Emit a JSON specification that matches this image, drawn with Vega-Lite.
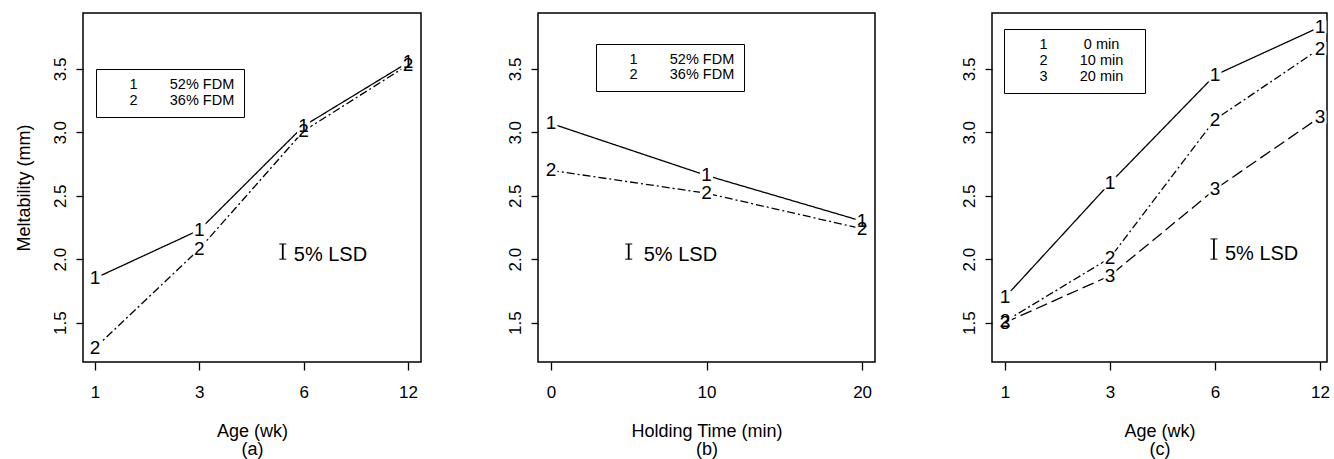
{
  "$schema": "https://vega.github.io/schema/vega-lite/v6.json",
  "padding": {"left": 14, "top": 12, "right": 0, "bottom": 0},
  "bounds": "flush",
  "spacing": 117,
  "config": {
    "font": "Liberation Sans",
    "view": {"stroke": "black", "strokeWidth": 1.5},
    "axis": {
      "domain": false, "grid": false,
      "tickColor": "black", "tickWidth": 1.3, "tickSize": 8,
      "labelColor": "black", "labelFontSize": 17, "labelFont": "Liberation Sans",
      "titleFont": "Liberation Sans", "titleFontSize": 18, "titleFontWeight": "normal", "titleColor": "black"
    },
    "axisX": {"labelPadding": 14, "titlePadding": 22, "titleLineHeight": 18},
    "axisY": {"tickSize": 7, "labelAngle": -90, "labelAlign": "center", "labelBaseline": "alphabetic", "labelPadding": 11, "titlePadding": 18},
    "legend": {
      "orient": "none", "title": null, "strokeColor": "black",
      "symbolType": "circle", "symbolSize": 1, "symbolOpacity": 0, "symbolStrokeWidth": 0,
      "labelFont": "Liberation Sans", "labelFontSize": 14.5, "labelColor": "black", "labelLimit": 400
    }
  },
  "datasets": {
    "a": [
      {"age": 1, "ageRank": 0, "fat": "52% FDM", "pch": "1", "meltability": 1.85},
      {"age": 3, "ageRank": 1, "fat": "52% FDM", "pch": "1", "meltability": 2.23},
      {"age": 6, "ageRank": 2, "fat": "52% FDM", "pch": "1", "meltability": 3.05},
      {"age": 12, "ageRank": 3, "fat": "52% FDM", "pch": "1", "meltability": 3.55},
      {"age": 1, "ageRank": 0, "fat": "36% FDM", "pch": "2", "meltability": 1.3},
      {"age": 3, "ageRank": 1, "fat": "36% FDM", "pch": "2", "meltability": 2.08},
      {"age": 6, "ageRank": 2, "fat": "36% FDM", "pch": "2", "meltability": 3.01},
      {"age": 12, "ageRank": 3, "fat": "36% FDM", "pch": "2", "meltability": 3.53}
    ],
    "b": [
      {"holding": 0, "fat": "52% FDM", "pch": "1", "meltability": 3.07},
      {"holding": 10, "fat": "52% FDM", "pch": "1", "meltability": 2.66},
      {"holding": 20, "fat": "52% FDM", "pch": "1", "meltability": 2.3},
      {"holding": 0, "fat": "36% FDM", "pch": "2", "meltability": 2.7},
      {"holding": 10, "fat": "36% FDM", "pch": "2", "meltability": 2.52},
      {"holding": 20, "fat": "36% FDM", "pch": "2", "meltability": 2.24}
    ],
    "c": [
      {"age": 1, "ageRank": 0, "holding": "0 min", "pch": "1", "meltability": 1.7},
      {"age": 3, "ageRank": 1, "holding": "0 min", "pch": "1", "meltability": 2.6},
      {"age": 6, "ageRank": 2, "holding": "0 min", "pch": "1", "meltability": 3.45},
      {"age": 12, "ageRank": 3, "holding": "0 min", "pch": "1", "meltability": 3.83},
      {"age": 1, "ageRank": 0, "holding": "10 min", "pch": "2", "meltability": 1.51},
      {"age": 3, "ageRank": 1, "holding": "10 min", "pch": "2", "meltability": 2.01},
      {"age": 6, "ageRank": 2, "holding": "10 min", "pch": "2", "meltability": 3.1},
      {"age": 12, "ageRank": 3, "holding": "10 min", "pch": "2", "meltability": 3.66},
      {"age": 1, "ageRank": 0, "holding": "20 min", "pch": "3", "meltability": 1.5},
      {"age": 3, "ageRank": 1, "holding": "20 min", "pch": "3", "meltability": 1.87},
      {"age": 6, "ageRank": 2, "holding": "20 min", "pch": "3", "meltability": 2.55},
      {"age": 12, "ageRank": 3, "holding": "20 min", "pch": "3", "meltability": 3.12}
    ]
  },
  "hconcat": [
    {
      "width": 338, "height": 349,
      "data": {"name": "a"},
      "encoding": {
        "x": {"field": "ageRank", "type": "quantitative", "title": ["Age (wk)", "(a)"],
              "scale": {"domain": [-0.115, 3.125], "nice": false, "zero": false},
              "axis": {"values": [0, 1, 2, 3], "labelExpr": "['1','3','6','12'][datum.value]"}},
        "y": {"field": "meltability", "type": "quantitative", "title": "Meltability (mm)",
              "scale": {"domain": [1.19, 3.94], "nice": false, "zero": false},
              "axis": {"values": [1.5, 2, 2.5, 3, 3.5], "format": ".1f"}}
      },
      "layer": [
        {"mark": {"type": "line", "color": "black", "strokeWidth": 1.3},
         "encoding": {"strokeDash": {"field": "fat", "type": "nominal",
           "scale": {"domain": ["52% FDM", "36% FDM"], "range": [[1, 0], [8, 3, 2, 3]]},
           "legend": {"legendX": 13, "legendY": 56, "padding": 9, "rowPadding": 1, "labelOffset": 10,
             "labelExpr": "(datum.label == '52% FDM' ? '1' : '2') + '\u00a0\u00a0\u00a0\u00a0\u00a0\u00a0\u00a0\u00a0' + datum.label",
             "encode": {"legend": {"update": {"strokeWidth": {"value": 1.5}}}}}}}},
        {"mark": {"type": "point", "shape": "square", "filled": true, "color": "white", "opacity": 1, "size": 170, "strokeWidth": 0}},
        {"mark": {"type": "text", "fontSize": 19, "color": "black", "baseline": "middle"},
         "encoding": {"text": {"field": "pch"}}},
        {"data": {"values": [{"ageRank": 1.8, "lsdLow": 2.0, "lsdHigh": 2.12, "label": "5% LSD"}]},
         "layer": [
           {"mark": {"type": "rule", "color": "black", "strokeWidth": 1.8},
            "encoding": {"y": {"field": "lsdLow", "type": "quantitative"}, "y2": {"field": "lsdHigh"}}},
           {"mark": {"type": "tick", "orient": "horizontal", "size": 7, "thickness": 1.4, "color": "black"},
            "encoding": {"y": {"field": "lsdLow", "type": "quantitative"}}},
           {"mark": {"type": "tick", "orient": "horizontal", "size": 7, "thickness": 1.4, "color": "black"},
            "encoding": {"y": {"field": "lsdHigh", "type": "quantitative"}}},
           {"mark": {"type": "text", "align": "left", "baseline": "alphabetic", "dx": 11, "dy": 2, "fontSize": 20, "color": "black"},
            "encoding": {"y": {"field": "lsdLow", "type": "quantitative"}, "text": {"field": "label"}}}
         ]}
      ]
    },
    {
      "width": 337, "height": 349,
      "data": {"name": "b"},
      "encoding": {
        "x": {"field": "holding", "type": "quantitative", "title": ["Holding Time (min)", "(b)"],
              "scale": {"domain": [-0.83, 20.83], "nice": false, "zero": false},
              "axis": {"values": [0, 10, 20]}},
        "y": {"field": "meltability", "type": "quantitative", "title": null,
              "scale": {"domain": [1.19, 3.94], "nice": false, "zero": false},
              "axis": {"values": [1.5, 2, 2.5, 3, 3.5], "format": ".1f"}}
      },
      "layer": [
        {"mark": {"type": "line", "color": "black", "strokeWidth": 1.3},
         "encoding": {"strokeDash": {"field": "fat", "type": "nominal",
           "scale": {"domain": ["52% FDM", "36% FDM"], "range": [[1, 0], [8, 3, 2, 3]]},
           "legend": {"legendX": 58, "legendY": 31, "padding": 9, "rowPadding": 0, "labelOffset": 10,
             "labelExpr": "(datum.label == '52% FDM' ? '1' : '2') + '\u00a0\u00a0\u00a0\u00a0\u00a0\u00a0\u00a0\u00a0' + datum.label",
             "encode": {"legend": {"update": {"strokeWidth": {"value": 1.5}}}}}}}},
        {"mark": {"type": "point", "shape": "square", "filled": true, "color": "white", "opacity": 1, "size": 170, "strokeWidth": 0}},
        {"mark": {"type": "text", "fontSize": 19, "color": "black", "baseline": "middle"},
         "encoding": {"text": {"field": "pch"}}},
        {"data": {"values": [{"holding": 5, "lsdLow": 2.0, "lsdHigh": 2.12, "label": "5% LSD"}]},
         "layer": [
           {"mark": {"type": "rule", "color": "black", "strokeWidth": 1.8},
            "encoding": {"y": {"field": "lsdLow", "type": "quantitative"}, "y2": {"field": "lsdHigh"}}},
           {"mark": {"type": "tick", "orient": "horizontal", "size": 7, "thickness": 1.4, "color": "black"},
            "encoding": {"y": {"field": "lsdLow", "type": "quantitative"}}},
           {"mark": {"type": "tick", "orient": "horizontal", "size": 7, "thickness": 1.4, "color": "black"},
            "encoding": {"y": {"field": "lsdHigh", "type": "quantitative"}}},
           {"mark": {"type": "text", "align": "left", "baseline": "alphabetic", "dx": 15, "dy": 2, "fontSize": 20, "color": "black"},
            "encoding": {"y": {"field": "lsdLow", "type": "quantitative"}, "text": {"field": "label"}}}
         ]}
      ]
    },
    {
      "width": 335, "height": 349,
      "data": {"name": "c"},
      "encoding": {
        "x": {"field": "ageRank", "type": "quantitative", "title": ["Age (wk)", "(c)"],
              "scale": {"domain": [-0.124, 3.067], "nice": false, "zero": false},
              "axis": {"values": [0, 1, 2, 3], "labelExpr": "['1','3','6','12'][datum.value]"}},
        "y": {"field": "meltability", "type": "quantitative", "title": null,
              "scale": {"domain": [1.19, 3.94], "nice": false, "zero": false},
              "axis": {"values": [1.5, 2, 2.5, 3, 3.5], "format": ".1f"}}
      },
      "layer": [
        {"mark": {"type": "line", "color": "black", "strokeWidth": 1.3},
         "encoding": {"strokeDash": {"field": "holding", "type": "nominal",
           "scale": {"domain": ["0 min", "10 min", "20 min"], "range": [[1, 0], [8, 3, 2, 3], [12, 5]]},
           "legend": {"legendX": 12, "legendY": 16, "padding": 9, "rowPadding": 1, "labelOffset": 12,
             "labelExpr": "(datum.label == '0 min' ? '1\u00a0' : (datum.label == '10 min' ? '2' : '3')) + '\u00a0\u00a0\u00a0\u00a0\u00a0\u00a0\u00a0\u00a0' + datum.label + '\u00a0\u00a0\u00a0\u200b'",
             "encode": {"legend": {"update": {"strokeWidth": {"value": 1.5}}}}}}}},
        {"mark": {"type": "point", "shape": "square", "filled": true, "color": "white", "opacity": 1, "size": 170, "strokeWidth": 0}},
        {"mark": {"type": "text", "fontSize": 19, "color": "black", "baseline": "middle"},
         "encoding": {"text": {"field": "pch"}}},
        {"data": {"values": [{"ageRank": 1.99, "lsdLow": 2.0, "lsdHigh": 2.16, "label": "5% LSD"}]},
         "layer": [
           {"mark": {"type": "rule", "color": "black", "strokeWidth": 1.8},
            "encoding": {"y": {"field": "lsdLow", "type": "quantitative"}, "y2": {"field": "lsdHigh"}}},
           {"mark": {"type": "tick", "orient": "horizontal", "size": 7, "thickness": 1.4, "color": "black"},
            "encoding": {"y": {"field": "lsdLow", "type": "quantitative"}}},
           {"mark": {"type": "tick", "orient": "horizontal", "size": 7, "thickness": 1.4, "color": "black"},
            "encoding": {"y": {"field": "lsdHigh", "type": "quantitative"}}},
           {"mark": {"type": "text", "align": "left", "baseline": "alphabetic", "dx": 11, "dy": 1, "fontSize": 20, "color": "black"},
            "encoding": {"y": {"field": "lsdLow", "type": "quantitative"}, "text": {"field": "label"}}}
         ]}
      ]
    }
  ],
  "resolve": {
    "scale": {"x": "independent", "y": "independent", "strokeDash": "independent"},
    "axis": {"x": "independent", "y": "independent"},
    "legend": {"strokeDash": "independent"}
  }
}
